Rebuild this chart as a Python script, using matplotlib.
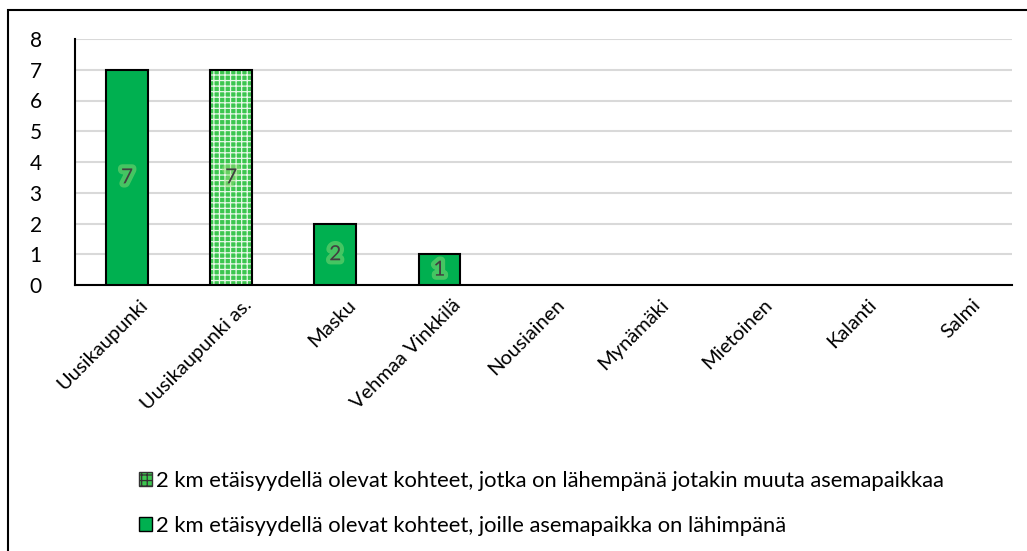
import matplotlib
matplotlib.use("Agg")
import matplotlib.pyplot as plt
from matplotlib.patches import Rectangle
import matplotlib.patheffects as pe
import matplotlib.transforms as mtransforms
import numpy as np

plt.rcParams['font.family'] = ['Lato', 'DejaVu Sans']
plt.rcParams['hatch.linewidth'] = 0.9

categories = ["Uusikaupunki", "Uusikaupunki as.", "Masku", "Vehmaa Vinkkilä",
              "Nousiainen", "Mynämäki", "Mietoinen", "Kalanti", "Salmi"]
nearest = [7, 0, 2, 1, 0, 0, 0, 0, 0]
other = [0, 7, 0, 0, 0, 0, 0, 0, 0]
label_nearest = "2 km etäisyydellä olevat kohteet, joille asemapaikka on lähimpänä"
label_other = "2 km etäisyydellä olevat kohteet, jotka on lähempänä jotakin muuta asemapaikkaa"
yticks = [0, 1, 2, 3, 4, 5, 6, 7, 8]

green = "#00B050"
light = "#3cc64f"

fig = plt.figure(figsize=(10.27, 5.51), dpi=100)
ax = fig.add_axes([75/1027, 1-285/551, (1012-75)/1027, (285-39)/551])

x = np.arange(len(categories))
w = 0.40
near_arr = np.array(nearest, dtype=float)
oth_arr = np.array(other, dtype=float)
mn = near_arr > 0
mo = oth_arr > 0
# solid series
ax.bar(x[mn], near_arr[mn], w, color=green, edgecolor="black", linewidth=1.5, zorder=3)
# patterned series (stacked)
ax.bar(x[mo], oth_arr[mo], w, bottom=near_arr[mo], color=light, edgecolor="#e8f8e8",
       hatch="+++", linewidth=0, zorder=3)
ax.bar(x[mo], oth_arr[mo], w, bottom=near_arr[mo], fill=False, edgecolor="black",
       linewidth=1.5, zorder=4)

glow = [pe.withStroke(linewidth=6, foreground="#9be07a", alpha=0.45)]
for i in range(len(categories)):
    for v, b in ((nearest[i], 0), (other[i], nearest[i])):
        if v > 0:
            ax.text(x[i], b + v/2, str(v), ha="center", va="center",
                    fontsize=15, color="#404040", zorder=5, path_effects=glow)

ax.set_xlim(-0.5, len(categories) - 0.5)
ax.set_ylim(0, 8)
ax.set_yticks(yticks)
ax.set_yticklabels([str(t) for t in yticks], fontsize=15)
ax.yaxis.grid(True, color="#d9d9d9", linewidth=1.5, zorder=0)
ax.set_axisbelow(True)
ax.tick_params(axis="y", length=0, pad=24)
ax.tick_params(axis="x", length=0, pad=8)
ax.set_xticks(x)
ax.set_xticklabels(categories, rotation=45, ha="right", rotation_mode="anchor",
                   fontsize=14.5)
off = mtransforms.ScaledTranslation(12/100, 0, fig.dpi_scale_trans)
for lab in ax.get_xticklabels():
    lab.set_transform(lab.get_transform() + off)
for s in ("top", "right"):
    ax.spines[s].set_visible(False)
ax.spines["left"].set_linewidth(1.5)
ax.spines["bottom"].set_linewidth(1.5)

# legend
h_other = Rectangle((0, 0), 1, 1, facecolor=light, edgecolor="#333333",
                    hatch="+++", linewidth=1)
h_near = Rectangle((0, 0), 1, 1, facecolor=green, edgecolor="black", linewidth=1)
fig.legend([h_other, h_near], [label_other, label_nearest],
           loc="upper left", bbox_to_anchor=(130/1027, 1-462/551), frameon=False,
           fontsize=15.8, handlelength=0.6, handleheight=0.6, handletextpad=0.2,
           labelspacing=1.15, borderaxespad=0)

# figure frame
fig.patches.append(Rectangle((8/1027, -0.1), 1.2, 1.1 - 10/551, transform=fig.transFigure,
                             fill=False, edgecolor="black", linewidth=1.5))

fig.savefig("out.png", dpi=100)
